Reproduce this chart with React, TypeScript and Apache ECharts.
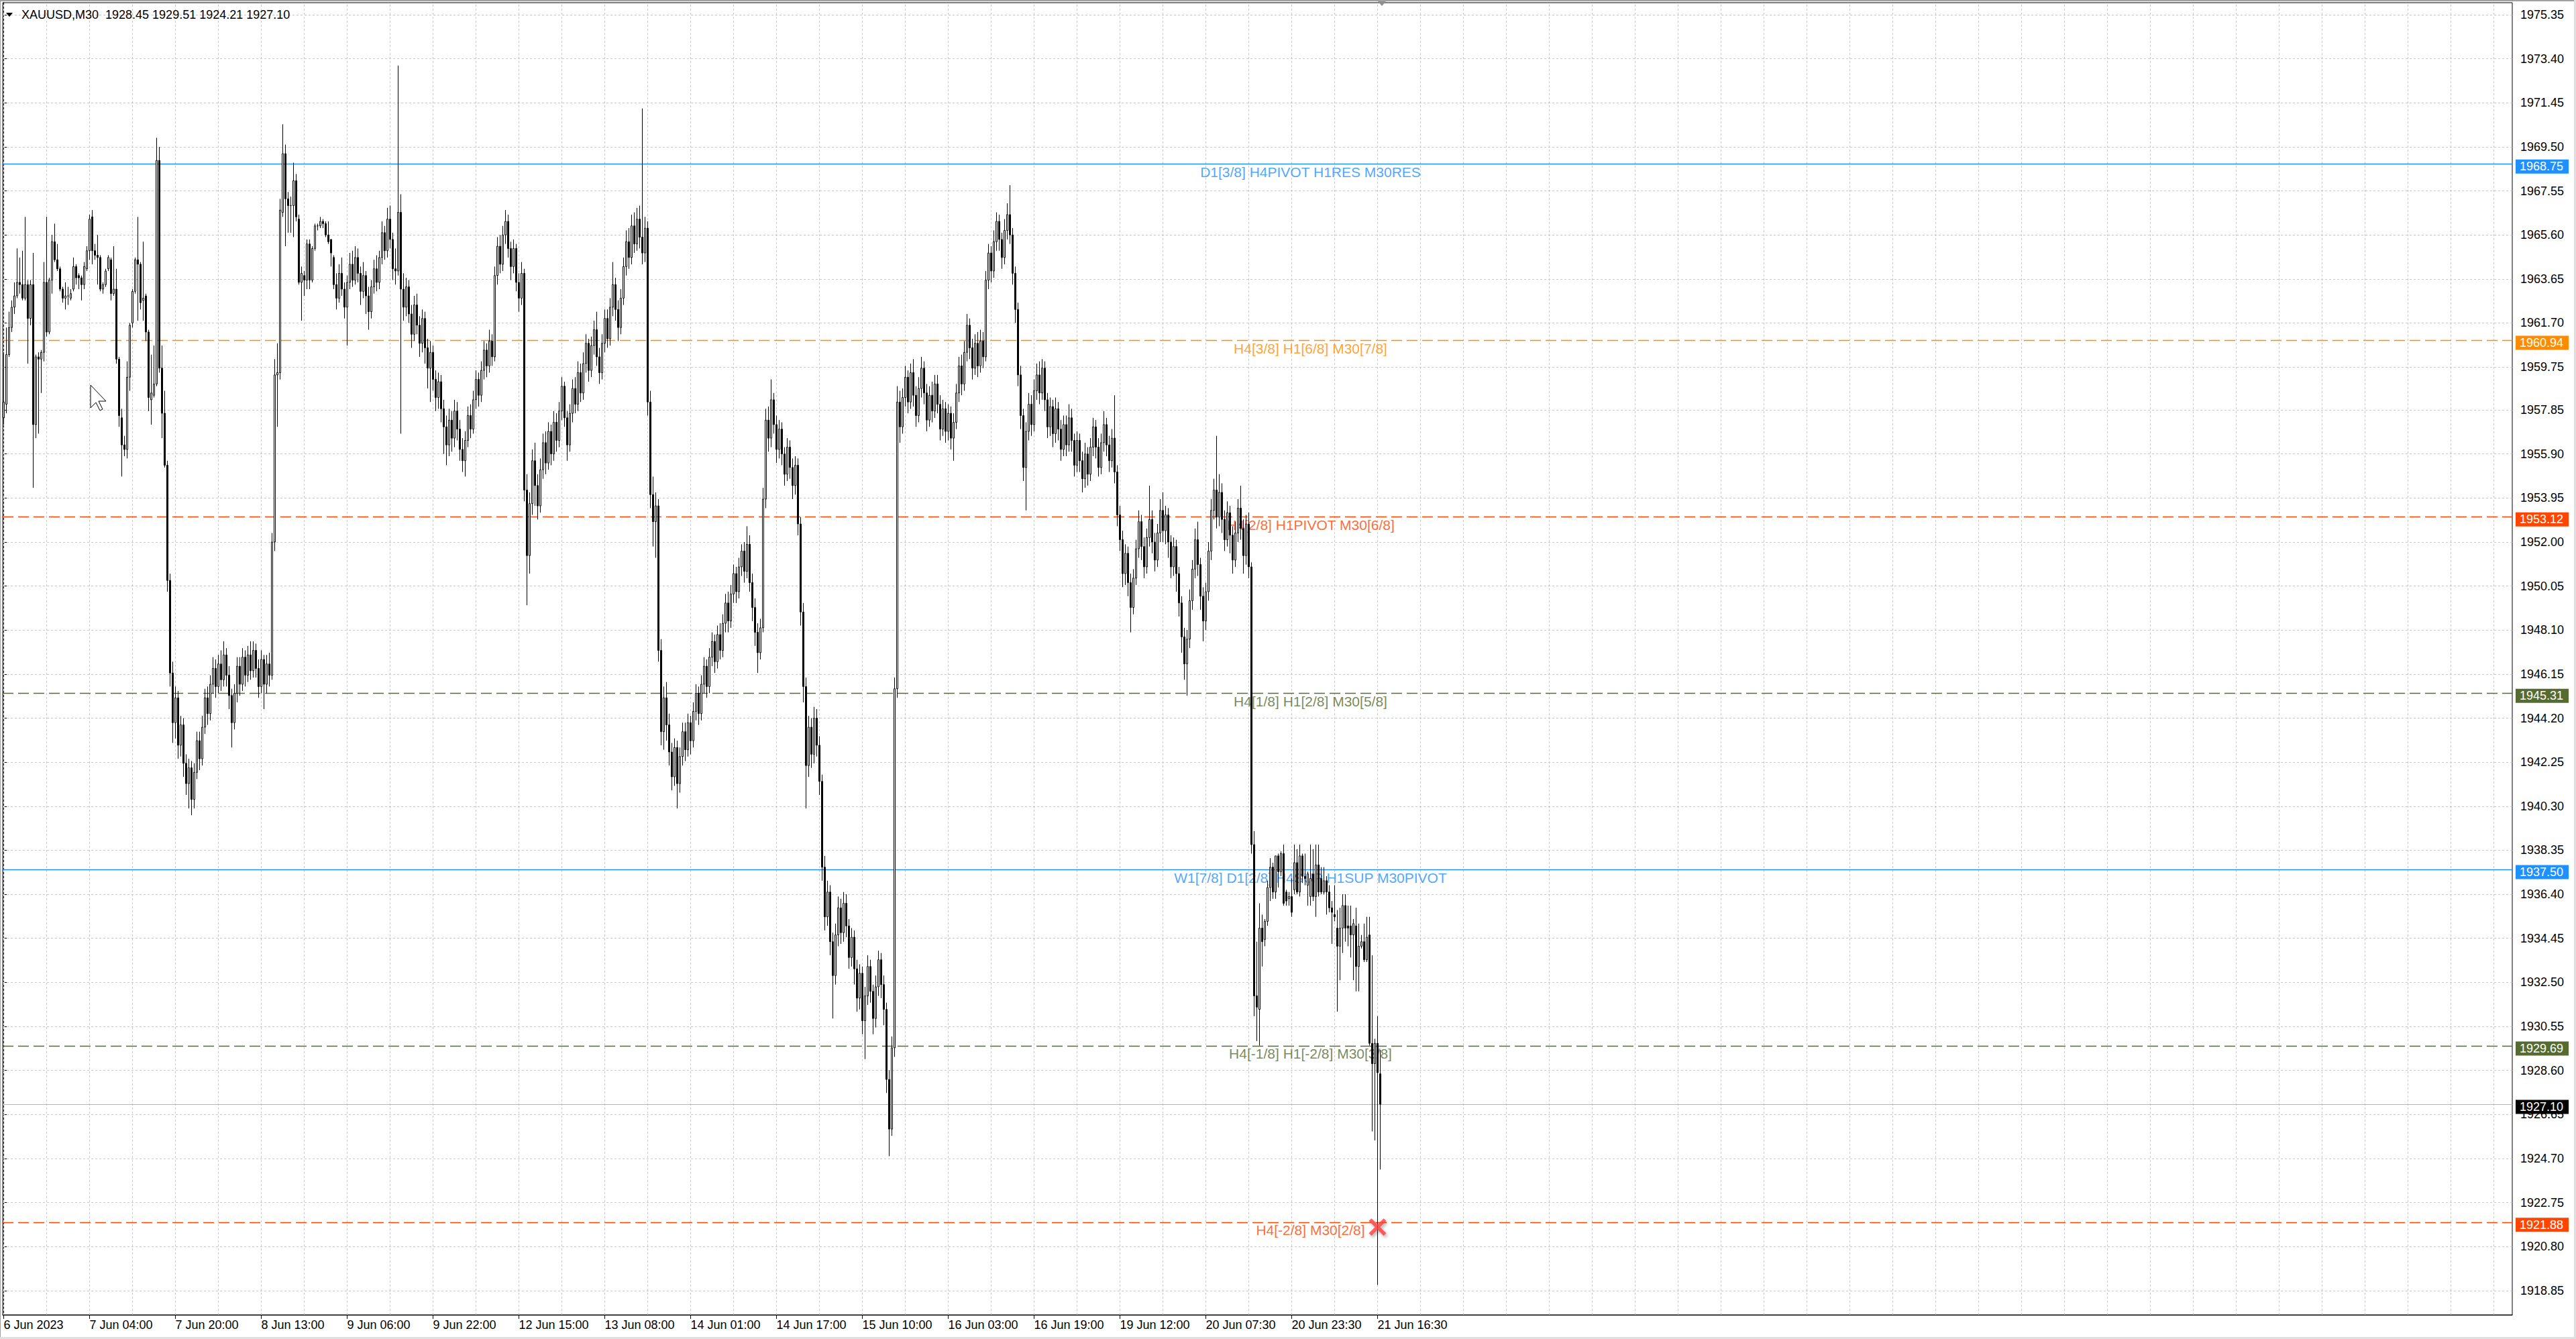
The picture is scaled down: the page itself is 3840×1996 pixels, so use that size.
import React, { useEffect, useRef } from "react";
import * as echarts from "echarts";

const FONT = "'Liberation Sans', Arial, sans-serif";
const SYMBOL = "XAUUSD,M30";

const timeLabels = [
  "6 Jun 2023", "7 Jun 04:00", "7 Jun 20:00", "8 Jun 13:00", "9 Jun 06:00", "9 Jun 22:00",
  "12 Jun 15:00", "13 Jun 08:00", "14 Jun 01:00", "14 Jun 17:00", "15 Jun 10:00", "16 Jun 03:00",
  "16 Jun 19:00", "19 Jun 12:00", "20 Jun 07:30", "20 Jun 23:30", "21 Jun 16:30",
];
const timeLabelBars = [0, 32, 64, 96, 128, 160, 192, 224, 256, 288, 320, 352, 384, 416, 448, 480, 512];

const priceTicks = [
  1918.85, 1920.8, 1922.75, 1924.7, 1926.65, 1928.6, 1930.55, 1932.5, 1934.45, 1936.4,
  1938.35, 1940.3, 1942.25, 1944.2, 1946.15, 1948.1, 1950.05, 1952.0, 1953.95, 1955.9,
  1957.85, 1959.75, 1961.7, 1963.65, 1965.6, 1967.55, 1969.5, 1971.45, 1973.4, 1975.35,
];

// M30 candles: [open, close, low, high]
const ohlc = [
  [1957.5,1958.2,1957.2,1960.4],[1958.1,1960.3,1957.7,1961.5],[1960.3,1961.5,1960.2,1962.2],[1961.5,1962.4,1961.3,1962.7],
  [1962.4,1962.9,1962.1,1963.5],[1962.9,1963.5,1962.8,1965.0],[1963.5,1963.4,1963.0,1964.6],[1963.4,1962.8,1962.7,1964.9],
  [1962.8,1963.4,1962.7,1966.4],[1963.4,1961.9,1959.9,1963.6],[1961.9,1963.4,1961.6,1963.6],[1963.4,1957.2,1954.4,1964.8],
  [1957.2,1960.2,1956.6,1960.3],[1960.2,1960.1,1956.8,1960.4],[1960.1,1960.4,1958.6,1960.5],[1960.4,1963.5,1960.0,1964.4],
  [1963.5,1961.3,1961.1,1966.4],[1961.3,1963.6,1961.2,1963.7],[1963.6,1965.3,1963.0,1965.6],[1965.3,1964.5,1964.4,1966.1],
  [1964.5,1964.1,1964.0,1965.2],[1964.1,1963.2,1963.1,1964.2],[1963.2,1962.8,1962.6,1963.3],[1962.8,1962.9,1962.3,1963.5],
  [1962.9,1962.9,1962.5,1963.3],[1962.8,1963.0,1962.7,1963.2],[1963.2,1964.2,1963.1,1964.6],[1964.2,1963.7,1963.4,1964.3],
  [1963.8,1963.7,1963.2,1963.9],[1963.7,1963.4,1962.7,1963.8],[1963.4,1964.2,1963.2,1964.4],[1964.1,1964.9,1964.0,1965.1],
  [1964.9,1966.3,1964.5,1966.5],[1966.4,1964.9,1964.3,1966.7],[1964.9,1964.7,1964.5,1965.2],[1964.7,1964.6,1963.4,1965.6],
  [1964.6,1963.2,1963.1,1964.7],[1963.2,1963.4,1963.0,1963.5],[1963.4,1964.0,1963.3,1964.1],[1964.1,1964.6,1964.0,1964.7],
  [1964.5,1963.0,1962.7,1964.6],[1963.0,1963.2,1962.9,1965.1],[1963.2,1960.1,1959.9,1964.1],[1960.1,1957.6,1957.1,1960.2],
  [1957.5,1956.3,1954.9,1957.9],[1956.3,1956.1,1955.8,1956.7],[1956.1,1959.3,1955.7,1960.0],[1959.3,1961.6,1958.7,1961.7],
  [1961.7,1963.1,1961.5,1963.2],[1963.1,1964.5,1963.0,1964.6],[1964.5,1964.3,1961.8,1966.4],[1964.3,1962.6,1962.3,1964.4],
  [1962.7,1962.8,1961.8,1965.3],[1962.9,1961.3,1960.9,1963.0],[1961.3,1958.4,1957.8,1961.4],[1958.3,1958.6,1957.2,1960.3],
  [1958.5,1959.0,1958.4,1960.7],[1959.0,1968.9,1958.9,1969.9],[1968.9,1959.7,1959.5,1969.5],[1959.7,1957.7,1956.6,1960.7],
  [1957.7,1955.4,1955.3,1958.7],[1955.4,1950.3,1949.8,1955.6],[1950.3,1946.2,1945.6,1950.6],[1946.2,1944.0,1943.1,1946.7],
  [1944.0,1945.1,1943.3,1945.6],[1945.1,1943.0,1942.4,1945.4],[1943.0,1943.9,1942.5,1944.3],[1943.9,1942.2,1941.6,1944.2],
  [1942.2,1941.3,1940.8,1942.6],[1941.3,1942.0,1940.2,1942.4],[1942.0,1940.6,1939.9,1942.3],[1940.6,1941.8,1940.2,1942.2],
  [1941.8,1943.2,1941.5,1943.6],[1943.2,1942.4,1941.9,1943.6],[1942.4,1943.8,1942.1,1944.3],[1943.8,1945.1,1943.5,1945.5],
  [1945.1,1944.4,1943.9,1945.6],[1944.4,1945.7,1944.1,1946.1],[1945.7,1946.4,1945.3,1946.9],[1946.4,1945.6,1945.1,1946.8],
  [1945.6,1946.6,1945.3,1947.0],[1946.6,1945.9,1945.4,1947.2],[1945.9,1947.0,1945.6,1947.6],[1947.0,1946.1,1945.6,1947.3],
  [1946.1,1945.2,1944.6,1946.5],[1945.2,1944.0,1942.9,1945.5],[1944.0,1945.3,1943.7,1945.7],[1945.3,1946.5,1944.9,1946.9],
  [1946.5,1945.7,1945.2,1946.9],[1945.7,1946.9,1945.4,1947.3],[1946.9,1946.1,1945.6,1947.2],[1946.1,1947.0,1945.8,1947.4],
  [1947.0,1946.3,1945.9,1947.6],[1946.3,1947.2,1946.0,1947.6],[1947.2,1946.4,1946.0,1947.5],[1946.4,1945.6,1945.1,1946.8],
  [1945.6,1946.8,1945.3,1947.2],[1946.8,1945.7,1944.6,1947.0],[1945.7,1946.6,1945.3,1947.0],[1946.6,1946.1,1945.6,1947.1],
  [1946.1,1952.0,1945.9,1952.4],[1952.0,1959.4,1951.6,1960.1],[1959.4,1959.5,1957.1,1960.8],[1959.5,1966.7,1959.2,1967.2],
  [1966.6,1969.2,1966.4,1970.5],[1969.2,1967.2,1965.1,1969.6],[1967.2,1966.9,1965.7,1967.5],[1966.9,1966.9,1965.7,1967.3],
  [1966.9,1968.0,1965.5,1968.8],[1968.0,1966.4,1966.2,1968.3],[1966.3,1963.5,1963.4,1966.5],[1963.5,1963.9,1961.8,1964.2],
  [1963.8,1963.6,1962.9,1964.0],[1963.6,1965.2,1963.2,1965.4],[1965.2,1963.6,1963.2,1965.4],[1963.6,1965.0,1963.5,1965.1],
  [1965.0,1966.0,1964.9,1966.1],[1966.0,1966.0,1965.8,1966.1],[1966.0,1966.2,1965.9,1966.4],[1966.2,1966.1,1965.9,1966.3],
  [1966.1,1965.6,1965.5,1966.2],[1965.6,1965.3,1965.2,1966.2],[1965.4,1964.8,1964.2,1965.4],[1964.6,1963.4,1963.2,1964.7],
  [1963.4,1962.8,1962.3,1963.9],[1962.8,1963.9,1962.6,1964.3],[1963.9,1963.2,1962.9,1964.6],[1963.2,1962.4,1961.9,1963.5],
  [1962.4,1963.5,1960.7,1963.8],[1963.5,1964.3,1963.2,1964.8],[1964.3,1963.6,1963.3,1964.9],[1963.6,1964.6,1963.4,1965.1],
  [1964.6,1963.9,1963.5,1965.0],[1963.9,1963.1,1962.5,1964.2],[1963.1,1963.8,1962.8,1964.4],[1963.8,1962.9,1962.1,1964.0],
  [1962.9,1962.2,1961.4,1963.3],[1962.2,1963.3,1961.9,1963.6],[1963.3,1964.1,1963.0,1964.5],[1964.1,1963.5,1963.1,1964.7],
  [1963.5,1964.6,1963.2,1964.9],[1964.6,1965.7,1964.3,1966.2],[1965.7,1964.9,1964.5,1966.0],[1964.9,1966.3,1964.6,1966.8],
  [1966.3,1965.4,1965.0,1966.9],[1965.4,1964.1,1963.6,1965.7],[1964.1,1964.0,1963.4,1965.0],[1964.0,1966.6,1963.8,1973.1],
  [1966.6,1963.2,1956.8,1967.4],[1963.2,1962.4,1961.8,1963.9],[1962.4,1963.3,1962.0,1963.7],[1963.3,1962.1,1961.7,1963.6],
  [1962.1,1961.2,1960.6,1962.5],[1961.2,1962.5,1960.9,1962.9],[1962.5,1961.6,1961.2,1963.0],[1961.6,1960.8,1960.2,1962.0],
  [1960.8,1961.9,1960.4,1962.3],[1961.9,1960.6,1959.9,1962.2],[1960.6,1959.7,1958.8,1961.0],[1959.7,1960.4,1958.2,1960.9],
  [1960.4,1959.2,1958.7,1960.7],[1959.2,1958.4,1957.8,1959.6],[1958.4,1959.1,1957.9,1959.5],[1959.1,1957.9,1957.3,1959.4],
  [1957.9,1957.1,1955.9,1958.3],[1957.1,1956.3,1955.4,1957.6],[1956.3,1957.4,1955.8,1957.9],[1957.4,1956.6,1956.0,1957.8],
  [1956.6,1957.8,1956.2,1958.3],[1957.8,1957.0,1956.5,1958.2],[1957.0,1956.1,1955.6,1957.4],[1956.1,1955.6,1955.1,1956.6],
  [1955.6,1956.5,1954.9,1956.9],[1956.5,1957.6,1956.2,1958.0],[1957.6,1957.0,1956.6,1958.1],[1957.0,1958.3,1956.8,1958.7],
  [1958.3,1959.2,1957.9,1959.6],[1959.2,1958.5,1958.0,1959.5],[1958.5,1959.6,1958.2,1960.0],[1959.6,1960.5,1959.2,1960.9],
  [1960.5,1959.8,1959.3,1960.8],[1959.8,1960.9,1959.5,1961.4],[1960.9,1960.2,1959.8,1961.2],[1960.2,1963.8,1960.0,1964.2],
  [1963.8,1965.1,1963.4,1965.5],[1965.1,1964.3,1963.9,1965.6],[1964.3,1965.6,1964.0,1966.0],[1965.6,1966.2,1965.2,1966.7],
  [1966.2,1965.0,1964.6,1966.5],[1965.0,1964.2,1963.6,1965.3],[1964.2,1965.0,1963.9,1965.4],[1965.0,1963.5,1963.1,1965.2],
  [1963.5,1962.8,1962.2,1963.9],[1962.8,1963.9,1962.5,1964.4],[1963.9,1954.3,1953.8,1964.1],[1954.3,1951.4,1949.2,1955.0],
  [1951.4,1953.7,1950.6,1954.2],[1953.7,1955.6,1953.2,1956.1],[1955.6,1954.5,1953.6,1956.4],[1954.5,1953.6,1953.0,1955.0],
  [1953.6,1955.2,1953.3,1955.7],[1955.2,1956.4,1954.8,1956.8],[1956.4,1955.5,1955.0,1956.9],[1955.5,1956.9,1955.2,1957.3],
  [1956.9,1955.9,1955.4,1957.2],[1955.9,1957.3,1955.6,1957.8],[1957.3,1956.5,1956.0,1957.7],[1956.5,1957.8,1956.2,1958.2],
  [1957.8,1958.9,1957.4,1959.3],[1958.9,1957.5,1957.1,1959.1],[1957.5,1956.3,1955.6,1957.8],[1956.3,1957.7,1956.0,1958.1],
  [1957.7,1958.8,1957.3,1959.2],[1958.8,1958.1,1957.7,1959.3],[1958.1,1959.5,1957.8,1960.0],[1959.5,1958.6,1958.2,1959.9],
  [1958.6,1959.9,1958.3,1960.4],[1959.9,1960.8,1959.5,1961.2],[1960.8,1959.6,1959.1,1961.0],[1959.6,1960.7,1959.3,1961.1],
  [1960.7,1961.4,1960.3,1961.8],[1961.4,1960.2,1959.8,1962.2],[1960.2,1959.5,1959.0,1960.6],[1959.5,1960.8,1959.2,1961.2],
  [1960.8,1961.9,1960.4,1962.3],[1961.9,1961.0,1960.6,1962.3],[1961.0,1962.4,1960.7,1962.8],[1962.4,1963.4,1962.0,1964.4],
  [1963.4,1962.3,1961.8,1963.7],[1962.3,1961.5,1960.9,1962.7],[1961.5,1962.8,1961.2,1963.2],[1962.8,1964.2,1962.5,1964.6],
  [1964.2,1965.3,1963.8,1965.8],[1965.3,1964.6,1964.1,1965.9],[1964.6,1966.0,1964.3,1966.5],[1966.0,1965.2,1964.8,1966.6],
  [1965.2,1966.3,1964.9,1966.8],[1966.3,1965.5,1965.0,1966.9],[1965.5,1964.8,1964.3,1971.2],[1964.8,1965.9,1964.4,1966.4],
  [1965.9,1958.2,1957.6,1966.2],[1958.2,1954.1,1953.5,1958.7],[1954.1,1952.9,1951.8,1954.9],[1952.9,1953.6,1951.3,1954.2],
  [1953.6,1947.2,1946.7,1953.9],[1947.2,1943.6,1943.0,1947.7],[1943.6,1945.1,1942.8,1945.6],[1945.1,1943.9,1943.2,1945.8],
  [1943.9,1942.7,1942.1,1944.4],[1942.7,1941.6,1941.0,1943.1],[1941.6,1942.9,1941.2,1943.3],[1942.9,1941.3,1940.2,1943.2],
  [1941.3,1942.5,1940.9,1942.9],[1942.5,1943.6,1942.1,1944.0],[1943.6,1942.8,1942.3,1944.0],[1942.8,1944.0,1942.5,1944.4],
  [1944.0,1943.2,1942.6,1944.3],[1943.2,1944.5,1942.9,1944.9],[1944.5,1945.3,1944.1,1945.7],[1945.3,1944.4,1943.9,1945.6],
  [1944.4,1945.7,1944.1,1946.1],[1945.7,1946.5,1945.3,1946.9],[1946.5,1945.6,1945.1,1946.8],[1945.6,1946.9,1945.3,1947.3],
  [1946.9,1947.6,1946.5,1948.0],[1947.6,1946.7,1946.2,1947.9],[1946.7,1947.9,1946.4,1948.3],[1947.9,1947.2,1946.8,1948.4],
  [1947.2,1948.4,1946.9,1948.8],[1948.4,1949.3,1948.0,1949.7],[1949.3,1948.5,1948.0,1949.8],[1948.5,1949.7,1948.2,1950.1],
  [1949.7,1950.6,1949.3,1951.0],[1950.6,1949.8,1949.3,1950.9],[1949.8,1950.9,1949.5,1951.3],[1950.9,1951.6,1950.5,1951.9],
  [1951.6,1950.7,1950.2,1952.0],[1950.7,1951.9,1950.4,1952.7],[1951.9,1950.2,1949.8,1952.3],[1950.2,1949.1,1948.5,1950.6],
  [1949.1,1948.0,1947.4,1949.5],[1948.0,1947.1,1946.2,1948.4],[1947.1,1948.2,1946.8,1948.6],[1948.2,1953.9,1948.0,1954.4],
  [1953.9,1957.4,1953.5,1957.9],[1957.4,1956.6,1956.0,1958.0],[1956.6,1958.3,1956.2,1959.2],[1958.3,1957.2,1956.8,1958.6],
  [1957.2,1956.1,1955.5,1957.6],[1956.1,1957.0,1955.7,1957.4],[1957.0,1955.9,1955.4,1957.3],[1955.9,1955.0,1954.5,1956.2],
  [1955.0,1956.2,1954.7,1956.6],[1956.2,1955.3,1954.8,1956.5],[1955.3,1954.5,1953.9,1955.7],[1954.5,1955.4,1954.1,1955.8],
  [1955.4,1952.8,1952.3,1955.7],[1952.8,1948.9,1948.3,1953.1],[1948.9,1945.6,1944.9,1949.3],[1945.6,1942.1,1940.2,1946.0],
  [1942.1,1943.8,1941.6,1944.3],[1943.8,1942.6,1942.0,1944.2],[1942.6,1944.2,1942.2,1944.7],[1944.2,1943.0,1942.5,1944.6],
  [1943.0,1941.4,1940.8,1943.4],[1941.4,1937.6,1937.0,1941.7],[1937.6,1935.4,1934.8,1938.1],[1935.4,1936.5,1935.0,1937.0],
  [1936.5,1934.3,1933.7,1936.8],[1934.3,1932.8,1930.9,1934.7],[1932.8,1934.6,1932.4,1935.1],[1934.6,1935.8,1934.1,1936.3],
  [1935.8,1934.7,1934.2,1936.2],[1934.7,1936.0,1934.3,1936.5],[1936.0,1935.0,1934.5,1936.4],[1935.0,1933.6,1933.1,1935.3],
  [1933.6,1934.5,1933.2,1934.9],[1934.5,1933.1,1932.4,1934.8],[1933.1,1931.8,1931.2,1933.5],[1931.8,1932.9,1931.3,1933.3],
  [1932.9,1930.8,1930.2,1933.2],[1930.8,1931.9,1929.1,1932.3],[1931.9,1933.2,1931.5,1933.7],[1933.2,1932.1,1931.6,1933.5],
  [1932.1,1930.9,1930.2,1932.4],[1930.9,1932.3,1930.5,1932.8],[1932.3,1933.5,1931.9,1933.9],[1933.5,1932.4,1931.8,1933.8],
  [1932.4,1931.3,1930.6,1932.8],[1931.3,1928.2,1927.6,1931.6],[1928.2,1926.0,1924.8,1928.6],[1926.0,1929.6,1925.7,1930.1],
  [1929.6,1945.5,1929.2,1946.0],[1945.5,1958.2,1945.1,1958.9],[1958.2,1957.1,1956.4,1958.7],[1957.1,1958.4,1956.8,1958.8],
  [1958.4,1959.3,1958.0,1959.8],[1959.3,1958.2,1957.7,1959.6],[1958.2,1959.5,1957.9,1959.9],[1959.5,1958.5,1958.0,1960.1],
  [1958.5,1957.6,1957.1,1958.9],[1957.6,1958.8,1957.3,1959.3],[1958.8,1959.7,1958.4,1960.2],[1959.7,1958.6,1958.1,1960.0],
  [1958.6,1957.4,1956.9,1959.0],[1957.4,1958.5,1957.1,1958.9],[1958.5,1957.8,1957.3,1959.1],[1957.8,1959.0,1957.5,1959.4],
  [1959.0,1958.1,1957.7,1959.4],[1958.1,1957.0,1956.5,1958.5],[1957.0,1957.9,1956.7,1958.3],[1957.9,1956.9,1956.4,1958.2],
  [1956.9,1957.7,1956.5,1958.1],[1957.7,1956.6,1956.1,1958.0],[1956.6,1957.3,1955.6,1957.7],[1957.3,1958.6,1957.0,1959.0],
  [1958.6,1959.8,1958.2,1960.2],[1959.8,1959.0,1958.5,1960.3],[1959.0,1960.4,1958.7,1960.9],[1960.4,1961.6,1960.0,1962.1],
  [1961.6,1960.6,1960.1,1961.9],[1960.6,1959.7,1959.2,1961.0],[1959.7,1960.8,1959.4,1961.2],[1960.8,1959.8,1959.3,1961.3],
  [1959.8,1960.9,1959.5,1961.4],[1960.9,1960.2,1959.7,1961.3],[1960.2,1963.6,1960.0,1964.0],[1963.6,1964.8,1963.2,1965.2],
  [1964.8,1964.0,1963.5,1965.1],[1964.0,1965.3,1963.7,1965.8],[1965.3,1966.2,1964.9,1966.6],[1966.2,1965.4,1964.9,1966.5],
  [1965.4,1964.6,1964.1,1965.7],[1964.6,1965.8,1964.3,1966.3],[1965.8,1966.5,1965.4,1967.0],[1966.5,1965.6,1965.2,1967.8],
  [1965.6,1963.9,1963.4,1965.9],[1963.9,1962.3,1961.7,1964.2],[1962.3,1959.4,1958.9,1962.6],[1959.4,1957.6,1957.0,1959.8],
  [1957.6,1955.3,1954.7,1957.9],[1955.3,1956.9,1953.4,1957.3],[1956.9,1958.1,1956.5,1958.6],[1958.1,1957.2,1956.7,1958.5],
  [1957.2,1958.7,1956.9,1959.2],[1958.7,1959.4,1958.3,1959.9],[1959.4,1958.6,1958.1,1960.0],[1958.6,1959.7,1958.3,1960.1],
  [1959.7,1958.3,1957.8,1960.0],[1958.3,1957.1,1956.6,1958.6],[1957.1,1958.0,1956.7,1958.4],[1958.0,1956.8,1956.2,1958.3],
  [1956.8,1957.9,1956.4,1958.4],[1957.9,1957.0,1956.5,1958.2],[1957.0,1956.1,1955.6,1957.4],[1956.1,1957.2,1955.8,1957.6],
  [1957.2,1956.3,1955.8,1957.6],[1956.3,1957.5,1956.0,1958.1],[1957.5,1956.5,1956.0,1957.9],[1956.5,1955.4,1954.9,1956.8],
  [1955.4,1956.5,1955.1,1956.9],[1956.5,1955.6,1955.1,1956.8],[1955.6,1954.8,1954.2,1956.0],[1954.8,1955.9,1954.4,1956.4],
  [1955.9,1955.0,1954.5,1956.2],[1955.0,1956.2,1954.7,1956.6],[1956.2,1957.1,1955.8,1957.5],[1957.1,1956.2,1955.7,1957.4],
  [1956.2,1955.3,1954.9,1956.6],[1955.3,1956.4,1955.0,1956.8],[1956.4,1957.2,1956.0,1957.8],[1957.2,1956.3,1955.8,1957.5],
  [1956.3,1955.6,1955.1,1956.7],[1955.6,1956.6,1955.3,1957.0],[1956.6,1955.1,1954.6,1958.5],[1955.1,1953.2,1952.7,1955.4],
  [1953.2,1952.1,1951.6,1953.6],[1952.1,1950.6,1950.0,1952.5],[1950.6,1951.5,1950.1,1951.9],[1951.5,1950.2,1949.6,1951.8],
  [1950.2,1949.1,1948.0,1950.6],[1949.1,1950.4,1948.8,1950.8],[1950.4,1951.7,1950.1,1952.1],[1951.7,1952.9,1951.3,1953.4],
  [1952.9,1951.8,1951.2,1953.2],[1951.8,1950.9,1950.4,1952.2],[1950.9,1952.2,1950.6,1952.6],[1952.2,1953.0,1951.8,1954.5],
  [1953.0,1952.0,1951.5,1953.4],[1952.0,1951.2,1950.7,1952.4],[1951.2,1952.4,1950.9,1952.8],[1952.4,1953.4,1952.0,1953.9],
  [1953.4,1952.5,1952.0,1954.2],[1952.5,1953.2,1951.9,1953.6],[1953.2,1952.0,1951.3,1953.5],[1952.0,1950.9,1950.4,1952.3],
  [1950.9,1951.8,1950.5,1952.2],[1951.8,1950.6,1949.8,1952.1],[1950.6,1949.3,1948.7,1950.9],[1949.3,1947.8,1947.1,1949.6],
  [1947.8,1946.6,1945.9,1948.2],[1946.6,1947.7,1945.2,1948.1],[1947.7,1949.4,1947.3,1949.9],[1949.4,1950.8,1949.0,1951.2],
  [1950.8,1952.1,1950.4,1952.6],[1952.1,1951.0,1950.5,1952.9],[1951.0,1949.6,1949.0,1951.3],[1949.6,1948.5,1947.6,1950.0],
  [1948.5,1949.8,1948.1,1950.2],[1949.8,1951.6,1949.4,1952.0],[1951.6,1953.4,1951.2,1953.9],[1953.4,1954.3,1953.0,1954.8],
  [1954.3,1953.1,1952.6,1956.7],[1953.1,1954.2,1952.7,1955.0],[1954.2,1953.0,1952.4,1954.6],[1953.0,1952.1,1951.6,1953.4],
  [1952.1,1953.3,1951.8,1953.8],[1953.3,1952.3,1951.5,1953.6],[1952.3,1951.2,1950.6,1952.7],[1951.2,1952.4,1950.9,1952.9],
  [1952.4,1953.5,1952.0,1953.9],[1953.5,1952.6,1952.1,1954.5],[1952.6,1951.4,1950.6,1953.0],[1951.4,1952.8,1951.0,1953.2],
  [1952.8,1950.9,1950.4,1953.3],[1950.9,1938.6,1938.2,1951.1],[1938.6,1931.9,1931.0,1939.2],[1931.9,1931.4,1929.9,1934.3],
  [1931.3,1934.9,1929.7,1936.0],[1934.9,1934.3,1933.2,1935.5],[1934.4,1935.2,1934.1,1935.3],[1935.2,1936.7,1935.0,1937.0],
  [1936.7,1937.6,1936.1,1938.0],[1937.6,1936.5,1936.2,1937.8],[1936.5,1938.1,1936.2,1938.1],[1938.1,1937.4,1936.7,1938.2],
  [1937.4,1938.2,1937.2,1938.3],[1938.2,1936.0,1935.9,1938.6],[1936.5,1936.1,1935.9,1936.6],[1936.2,1936.3,1935.9,1936.5],
  [1936.3,1935.6,1935.4,1937.1],[1936.6,1937.8,1936.4,1938.6],[1937.8,1936.5,1936.4,1938.4],[1936.5,1938.1,1936.3,1938.6],
  [1938.1,1937.2,1936.9,1938.2],[1937.2,1937.1,1936.8,1938.2],[1936.8,1937.3,1935.9,1937.4],[1936.3,1937.1,1935.9,1938.6],
  [1937.3,1936.3,1936.1,1938.4],[1936.3,1937.7,1935.4,1938.6],[1937.7,1936.5,1936.3,1938.6],[1937.1,1936.5,1936.4,1937.6],
  [1936.5,1937.0,1936.4,1937.6],[1937.0,1936.5,1935.5,1937.2],[1936.5,1935.8,1935.6,1936.8],[1935.8,1935.6,1934.2,1936.1],
  [1935.5,1935.4,1935.2,1936.8],[1934.9,1934.1,1931.2,1935.7],[1934.1,1934.9,1932.6,1935.8],[1934.9,1935.9,1933.8,1936.4],
  [1935.9,1934.9,1934.3,1936.4],[1935.0,1934.9,1934.1,1935.9],[1935.0,1934.6,1933.6,1935.9],[1934.6,1935.1,1932.6,1935.3],
  [1935.0,1933.2,1932.1,1935.8],[1933.2,1934.1,1932.1,1935.1],[1934.1,1934.3,1934.0,1934.6],[1934.3,1933.5,1933.4,1935.1],
  [1933.5,1934.5,1933.4,1935.4],[1934.6,1929.8,1929.7,1935.4],[1929.8,1928.9,1925.9,1933.7],[1928.9,1929.8,1925.5,1930.0],
  [1929.8,1928.5,1919.1,1931.0],[1928.45,1927.1,1924.21,1929.51],
];

const levelPrices = [1968.75, 1960.94, 1953.12, 1945.31, 1937.5, 1929.69, 1921.88];
const levelTexts = [
  "D1[3/8] H4PIVOT H1RES M30RES",
  "H4[3/8] H1[6/8] M30[7/8]",
  "H4[2/8] H1PIVOT M30[6/8]",
  "H4[1/8] H1[2/8] M30[5/8]",
  "W1[7/8] D1[2/8] H4SUP H1SUP M30PIVOT",
  "H4[-1/8] H1[-2/8] M30[3/8]",
  "H4[-2/8] M30[2/8]",
];
const levelColors = ["#1e90ff", "#ff8c00", "#ff4500", "#556b2f", "#1e90ff", "#556b2f", "#ff4500"];
const levelSolid = [true, false, false, false, true, false, false];
const levelTextBar = 487;
const signalPoint = [512, 1921.66];

function buildOption() {
  const last = ohlc[ohlc.length - 1];
  const lastClose = last[1];
  const header = `${SYMBOL}  ${last[0].toFixed(2)} ${last[3].toFixed(2)} ${last[2].toFixed(2)} ${last[1].toFixed(2)}`;

  const gridLines: any[] = [];
  for (let b = 0; b <= 934; b += 16) gridLines.push({ xAxis: b });
  priceTicks.forEach((t) => gridLines.push({ yAxis: t }));

  const priceBox = (text: string, bg: string) => ({
    show: true,
    position: "end",
    distance: 5,
    offset: [0, 4],
    formatter: text,
    color: "#fff",
    backgroundColor: bg,
    padding: [2, 8, 1, 6],
    fontSize: 18,
    fontFamily: FONT,
  });

  const levelLines: any[] = levelPrices.map((p, i) => ({
    yAxis: p,
    lineStyle: { color: levelColors[i], width: 1.4, type: levelSolid[i] ? "solid" : [16, 7], opacity: 1 },
    label: priceBox(p.toFixed(2), levelColors[i]),
  }));
  levelLines.push({
    yAxis: lastClose,
    lineStyle: { color: "#b4b4b4", width: 1.2, type: "solid", opacity: 1 },
    label: priceBox(lastClose.toFixed(2), "#000"),
  });

  return {
    animation: false,
    backgroundColor: "#fff",
    textStyle: { fontFamily: FONT },
    grid: { left: 4, right: 95, top: 4, bottom: 36, show: true, borderColor: "#000", borderWidth: 1, backgroundColor: "transparent" },
    xAxis: {
      type: "value",
      min: -0.375,
      max: 934.875,
      axisLine: { show: true, onZero: false, lineStyle: { color: "#000", width: 1 } },
      axisTick: { show: true, customValues: timeLabelBars, length: 6, lineStyle: { color: "#000" } },
      axisLabel: {
        customValues: timeLabelBars,
        formatter: (v: number) => timeLabels[timeLabelBars.indexOf(Math.round(v))] ?? "",
        align: "left",
        color: "#000",
        fontSize: 18,
        fontFamily: FONT,
        margin: 6,
      },
      splitLine: { show: false },
    },
    yAxis: {
      type: "value",
      position: "right",
      min: 1917.774,
      max: 1975.885,
      axisLine: { show: true, lineStyle: { color: "#000", width: 1 } },
      axisTick: { show: true, customValues: priceTicks, length: 5, lineStyle: { color: "#000" } },
      axisLabel: {
        customValues: priceTicks,
        formatter: (v: number) => v.toFixed(2),
        color: "#000",
        fontSize: 18,
        fontFamily: FONT,
        margin: 12,
      },
      splitLine: { show: false },
    },
    series: [
      {
        type: "line",
        data: [],
        silent: true,
        markLine: {
          z: 1,
          silent: true,
          animation: false,
          symbol: ["none", "none"],
          label: { show: false },
          lineStyle: { color: "#c8c8c8", width: 1, type: [3, 3] },
          emphasis: { disabled: true },
          data: gridLines,
        },
      },
      {
        type: "line",
        data: [],
        silent: true,
        markLine: {
          z: 2,
          silent: true,
          animation: false,
          symbol: ["none", "none"],
          emphasis: { disabled: true },
          data: levelLines,
        },
      },
      {
        type: "scatter",
        z: 2,
        silent: true,
        symbolSize: 1,
        itemStyle: { color: "rgba(0,0,0,0)" },
        data: levelPrices.map((p, i) => ({
          value: [levelTextBar, p],
          label: {
            show: true,
            position: "bottom",
            distance: 1,
            formatter: levelTexts[i],
            color: levelColors[i],
            fontSize: 21,
            fontFamily: FONT,
          },
        })),
      },
      {
        type: "candlestick",
        z: 3,
        silent: true,
        barWidth: 2,
        itemStyle: { color: "#fff", color0: "#000", borderColor: "#000", borderColor0: "#000", borderWidth: 1 },
        data: ohlc.map((d, i) => [i, d[0], d[1], d[2], d[3]]),
      },
      {
        type: "scatter",
        z: 6,
        silent: true,
        symbol: "path://M3,0 L10,7 L17,0 L20,3 L13,10 L20,17 L17,20 L10,13 L3,20 L0,17 L7,10 L0,3 Z",
        symbolSize: 26,
        itemStyle: { color: "#ff3c3c", shadowBlur: 4, shadowColor: "rgba(0,0,0,0.35)", shadowOffsetX: 2, shadowOffsetY: 3 },
        data: [signalPoint],
      },
    ],
    graphic: [
      { type: "rect", z: 20, shape: { x: 0, y: 0, width: 3840, height: 2 }, style: { fill: "#a0a0a0" } },
      { type: "rect", z: 20, shape: { x: 0, y: 0, width: 1, height: 1996 }, style: { fill: "#a0a0a0" } },
      { type: "rect", z: 20, shape: { x: 0, y: 1993, width: 3840, height: 3 }, style: { fill: "#e0e0e0" } },
      { type: "rect", z: 20, shape: { x: 3837, y: 0, width: 3, height: 1996 }, style: { fill: "#e0e0e0" } },
      { type: "polygon", z: 20, shape: { points: [[2054, 2], [2066, 2], [2060, 9]] }, style: { fill: "#909090" } },
      { type: "polygon", z: 20, shape: { points: [[9, 19], [19, 19], [14, 25]] }, style: { fill: "#000" } },
      {
        type: "text",
        z: 20,
        x: 32,
        y: 22,
        style: { text: header, fill: "#000", fontSize: 18, fontFamily: FONT, verticalAlign: "middle" },
      },
      {
        type: "polygon",
        z: 20,
        shape: { points: [[135, 574], [135, 608], [143, 600], [149, 612], [153, 610], [147, 598], [158, 598]] },
        style: { fill: "#fff", stroke: "#000", lineWidth: 1 },
      },
    ],
  };
}

export default function App() {
  const ref = useRef<HTMLDivElement>(null);
  useEffect(() => {
    const chart = echarts.init(ref.current as HTMLDivElement, null, { renderer: "svg" });
    chart.setOption(buildOption() as any);
    return () => chart.dispose();
  }, []);
  return (
    <div
      ref={ref}
      style={{ position: "fixed", left: 0, top: 0, width: 3840, height: 1996, background: "#fff" }}
    />
  );
}
